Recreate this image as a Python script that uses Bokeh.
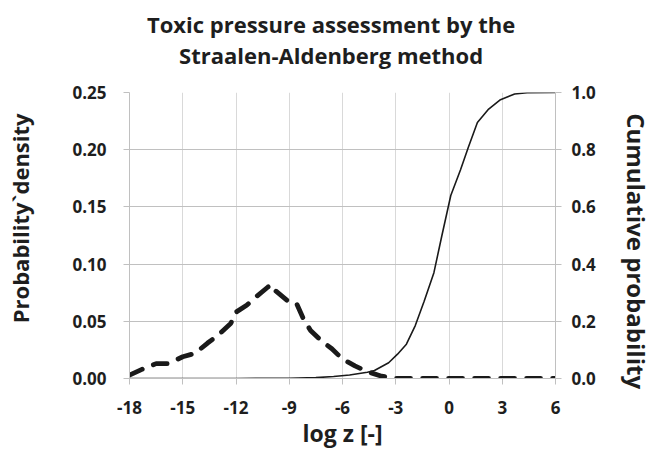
from bokeh.plotting import figure
from bokeh.models import Range1d, LinearAxis, FixedTicker, NumeralTickFormatter, Title
from bokeh.embed import file_html
from bokeh.resources import INLINE

# Probability density (dashed, left axis)
dens_x = [-18, -17.3, -16.5, -15.8, -15, -14.3, -13.6, -13, -12.3, -12, -11.4, -10.9,
          -10.2, -10, -9.8, -9.1, -8.6, -8.2, -7.8, -7.2, -6.6, -6, -5.3, -4.6, -3.8,
          -3, 0, 3, 6]
dens_y = [0.003, 0.008, 0.013, 0.013, 0.019, 0.022, 0.031, 0.038, 0.048, 0.058, 0.064, 0.071,
          0.080, 0.082, 0.077, 0.068, 0.066, 0.052, 0.042, 0.033, 0.026, 0.017, 0.011, 0.006, 0.002,
          0.0, 0.0, 0.0, 0.0]

# Cumulative probability (solid, right axis)
cum_x = [-18, -12, -9, -7.5, -6.5, -5.6, -4.6, -4.2, -3.4, -2.9, -2.4, -1.9, -1.4, -0.85,
         -0.4, 0.1, 0.65, 1.1, 1.6, 2.2, 2.9, 3.7, 4.4, 6]
cum_y = [0.0, 0.0, 0.001, 0.003, 0.007, 0.012, 0.022, 0.028, 0.055, 0.085, 0.12, 0.185, 0.27, 0.37,
         0.5, 0.64, 0.73, 0.81, 0.895, 0.94, 0.975, 0.995, 0.999, 1.0]

x_ticks = [-18, -15, -12, -9, -6, -3, 0, 3, 6]
x_tick_labels = ["-18", "-15", "-12", "-9", "-6", "-3", "0", "3", "6"]
left_ticks = [0.0, 0.05, 0.10, 0.15, 0.20, 0.25]
right_ticks = [0.0, 0.2, 0.4, 0.6, 0.8, 1.0]

title_lines = ["Toxic pressure assessment by the", "Straalen-Aldenberg method"]

FONT = "Open Sans"
TXT = "#1e1e1e"
GRID = "#c0c0c0"
NB = "\u00a0"

p = figure(frame_width=426, frame_height=286, output_backend="svg", toolbar_location=None,
           title=None,
           x_range=Range1d(-18, 6), y_range=Range1d(0, 0.25),
           min_border_left=129, min_border_right=98, min_border_top=92, min_border_bottom=76)
p.outline_line_color = None
p.background_fill_color = "white"
p.border_fill_color = "white"

p.extra_y_ranges = {"cum": Range1d(0, 1)}

# two title lines (second line is nearest to the plot)
p.add_layout(Title(text=title_lines[1] + NB * 4, align="center", text_font=FONT,
                   text_font_size="22px", text_font_style="bold", text_color=TXT,
                   standoff=45), "above")
p.add_layout(Title(text=title_lines[0] + NB * 4, align="center", text_font=FONT,
                   text_font_size="22px", text_font_style="bold", text_color=TXT,
                   standoff=-47), "above")

def style_axis(ax):
    ax.axis_line_color = GRID
    ax.major_tick_line_color = GRID
    ax.minor_tick_line_color = None
    ax.major_tick_in = 0
    ax.major_tick_out = 6
    ax.major_label_text_font = FONT
    ax.major_label_text_font_size = "17px"
    ax.major_label_text_font_style = "bold"
    ax.major_label_text_color = TXT
    ax.axis_label_text_font = FONT
    ax.axis_label_text_font_size = "22px"
    ax.axis_label_text_font_style = "bold"
    ax.axis_label_text_color = TXT

xa = p.xaxis[0]
style_axis(xa)
xa.ticker = FixedTicker(ticks=x_ticks)
xa.major_label_overrides = {t: s for t, s in zip(x_ticks, x_tick_labels)}
xa.axis_label = "log z [-]"
xa.axis_label_text_font_size = "23px"
xa.major_label_standoff = 16
xa.axis_label_standoff = 0

ya = p.yaxis[0]
style_axis(ya)
ya.ticker = FixedTicker(ticks=left_ticks)
ya.formatter = NumeralTickFormatter(format="0.00")
ya.axis_label = NB * 6 + "Probability`density"
ya.major_label_standoff = 17
ya.axis_label_standoff = 34

ra = LinearAxis(y_range_name="cum")
style_axis(ra)
ra.ticker = FixedTicker(ticks=right_ticks)
ra.formatter = NumeralTickFormatter(format="0.0")
ra.axis_label = NB * 5 + "Cumulative probability"
ra.axis_label_text_font_size = "24px"
ra.major_label_standoff = 10
ra.axis_label_standoff = 21
p.add_layout(ra, "right")

p.xgrid.ticker = FixedTicker(ticks=x_ticks)
p.ygrid.ticker = FixedTicker(ticks=left_ticks)
p.xgrid.grid_line_color = "#d9d9d9"
p.ygrid.grid_line_color = GRID

p.line(dens_x, dens_y, line_color="#1a1a1a", line_width=4.8, line_dash="14 12", line_cap="round")
p.line(cum_x, cum_y, y_range_name="cum", line_color="#1a1a1a", line_width=1.6)

open("out.html", "w").write(file_html(p, INLINE))
